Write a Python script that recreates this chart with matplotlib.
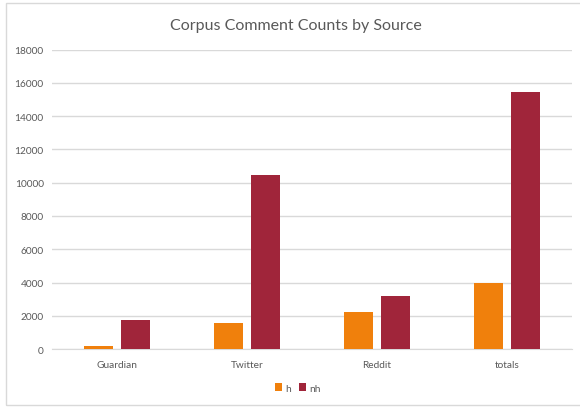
import matplotlib.pyplot as plt
import numpy as np
from matplotlib.patches import Rectangle

# values
sources = ['Guardian', 'Twitter', 'Reddit', 'totals']
h_counts = [160, 1570, 2200, 4000]
nh_counts = [1750, 10480, 3160, 15450]

h_color = '#F0800C'
nh_color = '#A0253A'
text_color = '#595959'

plt.rcParams['font.family'] = ['Lato', 'DejaVu Sans']

fig = plt.figure(figsize=(5.8, 4.1), dpi=100)
ax = fig.add_axes([0.0897, 0.1463, 0.8966, 0.730])

# chart border like the spreadsheet export
fig.patches.append(Rectangle((5.5 / 580, 4 / 410), 1.0, 402 / 410,
                             transform=fig.transFigure, fill=False,
                             edgecolor='#D9D9D9', linewidth=1.0))

x = np.arange(len(sources))
width = 0.226
offset = 0.142
ax.bar(x - offset, h_counts, width, color=h_color, label='h', zorder=3)
ax.bar(x + offset, nh_counts, width, color=nh_color, label='nh', zorder=3)

ax.set_xlim(-0.5, 3.5)
ax.set_ylim(0, 18000)
ax.set_yticks(range(0, 18001, 2000))
ax.set_xticks(x)
ax.set_xticklabels(sources)
ax.grid(axis='y', color='#D9D9D9', linewidth=1.0, zorder=0)
ax.tick_params(axis='both', length=0, labelsize=7.3, colors=text_color, pad=6)
ax.tick_params(axis='x', pad=8)
for side in ['top', 'right', 'left']:
    ax.spines[side].set_visible(False)
ax.spines['bottom'].set_color('#D9D9D9')

fig.text(0.51, 1 - 26 / 410, 'Corpus Comment Counts by Source',
         fontsize=11.5, color=text_color, ha='center', va='center')

leg = fig.legend(loc='center', bbox_to_anchor=(0.513, 21 / 410), ncol=2,
                 frameon=False, fontsize=7.3, handlelength=0.7, handleheight=0.7,
                 handletextpad=0.3, columnspacing=0.8)
for t in leg.get_texts():
    t.set_color(text_color)

fig.savefig('out.png', dpi=100, facecolor='white')
